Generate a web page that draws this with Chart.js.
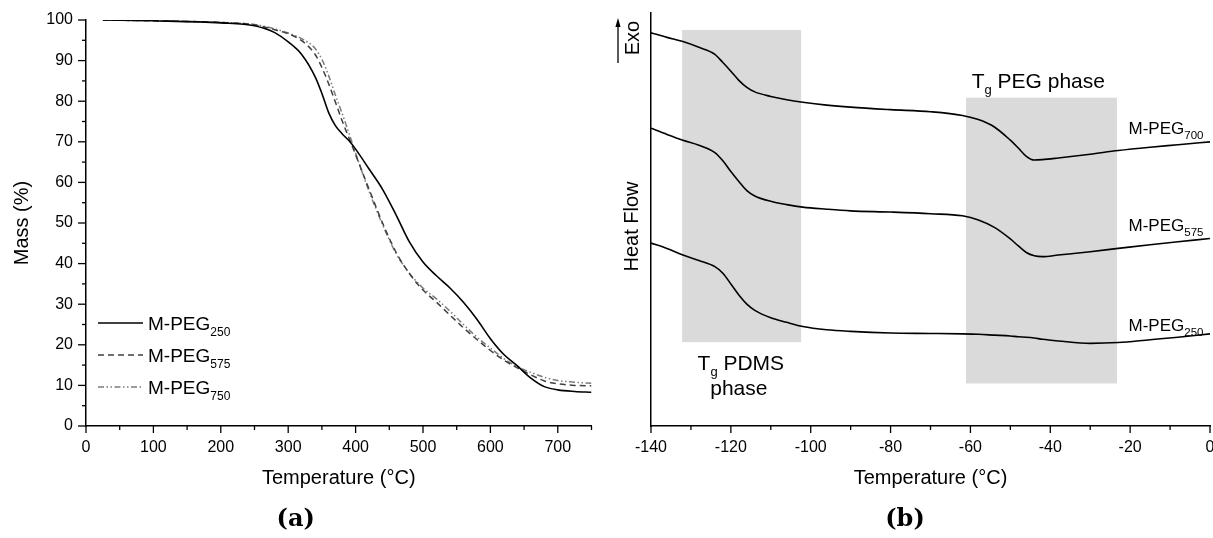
<!DOCTYPE html>
<html>
<head>
<meta charset="utf-8">
<script src="https://cdn.jsdelivr.net/npm/chart.js@4/dist/chart.umd.min.js"></script>
<style>
  html, body { margin: 0; padding: 0; background: #fff; overflow: hidden; width: 1213px; height: 538px; }
  #tga { position: absolute; left: 0; top: 0; }
  #dsc { position: absolute; left: 600px; top: 0; }
</style>
</head>
<body>
<canvas id="tga" width="600" height="538"></canvas>
<canvas id="dsc" width="616" height="538"></canvas>
<script>
// ---- (a) TGA: residual mass versus temperature ----
const tgaTemperature = [25, 100, 200, 250, 280, 300, 320, 340, 350, 360, 370, 380, 390, 400, 420, 440, 460, 480, 500, 520, 540, 560, 580, 600, 620, 640, 660, 680, 700, 725, 750];
const massPeg250 = [100, 99.8, 99.3, 98.6, 96.9, 94.6, 91.5, 86.0, 81.9, 77.2, 74.0, 72.0, 70.3, 68.2, 63.3, 58.3, 52.0, 45.3, 40.4, 37.0, 34.0, 30.5, 26.3, 21.5, 17.6, 14.8, 11.8, 9.7, 8.9, 8.5, 8.3];
const massPeg575 = [100, 99.8, 99.4, 98.8, 97.6, 96.6, 94.9, 91.5, 88.3, 84.3, 79.8, 75.2, 71.0, 66.8, 58.3, 50.0, 42.8, 37.5, 33.5, 30.5, 27.3, 24.2, 21.3, 18.6, 16.2, 14.3, 12.6, 11.1, 10.4, 10.0, 9.9];
const massPeg750 = [100, 99.8, 99.4, 98.9, 97.8, 96.8, 95.4, 93.0, 90.3, 86.3, 81.5, 77.0, 72.2, 67.2, 57.8, 49.6, 42.5, 37.6, 34.0, 31.3, 28.3, 25.0, 21.9, 19.2, 16.6, 14.6, 13.2, 12.0, 11.2, 10.8, 10.5];
const tgaSeriesSub = ['250', '575', '750'];

// ---- (b) DSC: heat flow (arbitrary units, curves offset) versus temperature ----
const dscTemperature = [-140, -136, -132, -128, -124, -122, -120, -118, -116, -114, -110, -106, -102, -96, -90, -80, -70, -62, -58, -54, -50, -48, -46, -44, -42, -38, -30, -23, -15, -8, 0];
const heatFlowPeg700 = [95.2, 94.1, 93.1, 91.7, 90.0, 88.0, 85.9, 83.7, 82.0, 80.9, 79.8, 79.0, 78.4, 77.7, 77.2, 76.6, 76.1, 75.2, 74.2, 72.4, 69.2, 67.3, 65.3, 64.4, 64.5, 64.9, 65.8, 66.7, 67.5, 68.1, 68.8];
const heatFlowPeg575 = [72.1, 70.6, 69.2, 68.0, 66.2, 64.2, 61.6, 59.2, 57.0, 55.7, 54.4, 53.6, 53.0, 52.5, 52.1, 51.8, 51.4, 50.9, 49.9, 48.1, 45.3, 43.6, 42.0, 41.2, 41.0, 41.4, 42.2, 43.0, 43.9, 44.6, 45.4];
const heatFlowPeg250 = [44.3, 43.0, 41.4, 40.1, 38.6, 37.0, 34.4, 31.7, 29.5, 28.0, 26.2, 25.1, 24.1, 23.3, 22.9, 22.5, 22.4, 22.3, 22.2, 22.0, 21.8, 21.6, 21.5, 21.3, 21.0, 20.6, 20.0, 20.2, 20.9, 21.5, 22.3];
const dscSeriesSub = ['700', '575', '250'];

// glass-transition windows (temperature span and heat-flow span)
const glassRegionStart = [-132.2, -61.1];
const glassRegionEnd = [-102.4, -23.3];
const glassRegionTop = [95.9, 79.5];
const glassRegionBottom = [20.3, 10.3];

const SANS = '"Liberation Sans", Arial, Helvetica, sans-serif';
Chart.defaults.font.family = SANS;
Chart.defaults.color = '#000';

const toPoints = (xs, ys) => xs.map((v, i) => ({ x: v, y: ys[i] }));

// text with subscript segments
function drawRich(ctx, segs, x, y, size, subSize, drop, align) {
  const widths = segs.map(s => { ctx.font = (s.sub ? subSize : size) + 'px ' + SANS; return ctx.measureText(s.text).width; });
  const total = widths.reduce((a, b) => a + b, 0);
  let cx = align === 'center' ? x - total / 2 : (align === 'right' ? x - total : x);
  ctx.textAlign = 'left';
  ctx.textBaseline = 'alphabetic';
  segs.forEach((s, i) => {
    ctx.font = (s.sub ? subSize : size) + 'px ' + SANS;
    ctx.fillText(s.text, cx, s.sub ? y + drop : y);
    cx += widths[i];
  });
}

// outward major/minor tick marks
const tickMarks = {
  id: 'tickMarks',
  afterDraw(chart, args, opts) {
    const ctx = chart.ctx;
    ctx.save();
    ctx.strokeStyle = '#000';
    ctx.lineWidth = 1.3;
    ['x', 'y'].forEach(id => {
      const o = opts[id];
      const s = chart.scales[id];
      if (!o || !s) return;
      s.ticks.forEach(t => {
        const major = Math.abs(t.value % o.major) < 1e-6;
        const len = major ? o.long : o.short;
        const p = s.getPixelForValue(t.value);
        ctx.beginPath();
        if (id === 'x') { ctx.moveTo(p, s.top); ctx.lineTo(p, s.top + len); }
        else { ctx.moveTo(s.right, p); ctx.lineTo(s.right - len, p); }
        ctx.stroke();
      });
    });
    ctx.restore();
  }
};

const tgaLegend = {
  id: 'tgaLegend',
  afterDatasetsDraw(chart) {
    const { ctx, chartArea } = chart;
    chart.data.datasets.forEach((ds, i) => {
      const y = chartArea.top + 303 + i * 32;
      ctx.save();
      ctx.strokeStyle = ds.borderColor;
      ctx.lineWidth = ds.borderWidth;
      ctx.setLineDash(ds.borderDash || []);
      ctx.beginPath();
      ctx.moveTo(chartArea.left + 12, y);
      ctx.lineTo(chartArea.left + 57, y);
      ctx.stroke();
      ctx.setLineDash([]);
      ctx.fillStyle = '#000';
      drawRich(ctx, [{ text: 'M-PEG' }, { text: tgaSeriesSub[i], sub: true }], chartArea.left + 62, y + 7, 19, 12, 6, 'left');
      ctx.restore();
    });
  }
};

const dscDecor = {
  id: 'dscDecor',
  beforeDatasetsDraw(chart) {
    const { ctx, scales: { x, y } } = chart;
    ctx.save();
    ctx.fillStyle = '#dadada';
    glassRegionStart.forEach((s, i) => {
      const x0 = x.getPixelForValue(s), x1 = x.getPixelForValue(glassRegionEnd[i]);
      const y0 = y.getPixelForValue(glassRegionTop[i]), y1 = y.getPixelForValue(glassRegionBottom[i]);
      ctx.fillRect(x0, y0, x1 - x0, y1 - y0);
    });
    ctx.restore();
  },
  afterDraw(chart) {
    const { ctx, chartArea, scales: { x, y } } = chart;
    ctx.save();
    ctx.fillStyle = '#000';
    // curve names
    const labelY = [70.6, 47.2, 23.0];
    dscSeriesSub.forEach((sub, i) => {
      drawRich(ctx, [{ text: 'M-PEG' }, { text: sub, sub: true }], x.getPixelForValue(-20.4), y.getPixelForValue(labelY[i]), 17, 11.5, 5, 'left');
    });
    // region captions
    drawRich(ctx, [{ text: 'T' }, { text: 'g', sub: true }, { text: ' PEG phase' }], x.getPixelForValue(-59.7), y.getPixelForValue(81.8), 21, 13, 6, 'left');
    drawRich(ctx, [{ text: 'T' }, { text: 'g', sub: true }, { text: ' PDMS' }], x.getPixelForValue(-117.5), y.getPixelForValue(13.6), 21, 13, 6, 'center');
    drawRich(ctx, [{ text: 'phase' }], x.getPixelForValue(-118.0), y.getPixelForValue(7.5), 21, 13, 6, 'center');
    // y axis caption and exotherm direction
    ctx.font = '20px ' + SANS;
    ctx.textAlign = 'center';
    ctx.textBaseline = 'middle';
    ctx.save();
    ctx.translate(chartArea.left - 19, (chartArea.top + chartArea.bottom) / 2 + 7);
    ctx.rotate(-Math.PI / 2);
    ctx.fillText('Heat Flow', 0, 0);
    ctx.restore();
    ctx.save();
    ctx.translate(chartArea.left - 18, chartArea.top + 25);
    ctx.rotate(-Math.PI / 2);
    ctx.fillText('Exo', 0, 0);
    ctx.restore();
    const ax = chartArea.left - 33;
    ctx.strokeStyle = '#000';
    ctx.lineWidth = 1.3;
    ctx.beginPath();
    ctx.moveTo(ax, chartArea.top + 50);
    ctx.lineTo(ax, chartArea.top + 12);
    ctx.stroke();
    ctx.beginPath();
    ctx.moveTo(ax, chartArea.top + 5);
    ctx.lineTo(ax - 2.6, chartArea.top + 14);
    ctx.lineTo(ax + 2.6, chartArea.top + 14);
    ctx.closePath();
    ctx.fill();
    ctx.restore();
  }
};

const panelTitle = text => ({
  display: true,
  position: 'bottom',
  text,
  color: '#000',
  font: { family: '"DejaVu Serif", "Liberation Serif", serif', size: 24, weight: 'bold' },
  padding: { top: 0, bottom: 3.6 }
});

// invisible tick spacer so labels sit clear of the axis without extra edge padding
const spacerGrid = len => ({ display: true, drawOnChartArea: false, drawTicks: true, tickLength: len, tickColor: 'rgba(0,0,0,0)' });

const lineStyle = { pointRadius: 0, fill: false, cubicInterpolationMode: 'monotone' };

new Chart(document.getElementById('tga'), {
  type: 'line',
  data: {
    datasets: [
      { ...lineStyle, label: 'M-PEG250', data: toPoints(tgaTemperature, massPeg250), borderColor: '#000', borderWidth: 1.6 },
      { ...lineStyle, label: 'M-PEG575', data: toPoints(tgaTemperature, massPeg575), borderColor: '#404040', borderWidth: 1.5, borderDash: [6, 4] },
      { ...lineStyle, label: 'M-PEG750', data: toPoints(tgaTemperature, massPeg750), borderColor: '#7c7c7c', borderWidth: 1.5, borderDash: [6, 2.5, 1.5, 2.5, 1.5, 2.5] }
    ]
  },
  options: {
    responsive: false,
    animation: false,
    events: [],
    devicePixelRatio: 1,
    layout: { padding: { top: 20, right: 8.5, left: 0, bottom: 0 } },
    plugins: {
      legend: { display: false },
      tooltip: { enabled: false },
      title: panelTitle('(a)'),
      tickMarks: { x: { major: 100, long: 7, short: 4 }, y: { major: 10, long: 8, short: 4 } }
    },
    scales: {
      x: {
        type: 'linear', min: 0, max: 750,
        grid: spacerGrid(12),
        border: { display: true, color: '#000', width: 1.5 },
        ticks: { stepSize: 50, padding: 0, maxRotation: 0, autoSkip: false, font: { size: 16 }, callback: v => (v % 100 === 0 ? String(v) : '') },
        title: { display: true, text: 'Temperature (°C)', font: { size: 20 }, padding: { top: 0, bottom: 15.6 } },
        afterFit: s => { s.height = 79.6; }
      },
      y: {
        type: 'linear', min: 0, max: 100,
        grid: spacerGrid(13),
        border: { display: true, color: '#000', width: 1.5 },
        ticks: { stepSize: 5, padding: 0, autoSkip: false, font: { size: 16 }, callback: v => (v % 10 === 0 ? String(v) : '') },
        title: { display: true, text: 'Mass (%)', font: { size: 20 }, padding: { top: 10, bottom: 0 } },
        afterFit: s => { s.width = 86; }
      }
    }
  },
  plugins: [tickMarks, tgaLegend]
});

new Chart(document.getElementById('dsc'), {
  type: 'line',
  data: {
    datasets: [
      { ...lineStyle, label: 'M-PEG700', data: toPoints(dscTemperature, heatFlowPeg700), borderColor: '#000', borderWidth: 1.6 },
      { ...lineStyle, label: 'M-PEG575', data: toPoints(dscTemperature, heatFlowPeg575), borderColor: '#000', borderWidth: 1.6 },
      { ...lineStyle, label: 'M-PEG250', data: toPoints(dscTemperature, heatFlowPeg250), borderColor: '#000', borderWidth: 1.6 }
    ]
  },
  options: {
    responsive: false,
    animation: false,
    events: [],
    devicePixelRatio: 1,
    layout: { padding: { top: 13, right: 6, left: 0, bottom: 0 } },
    plugins: {
      legend: { display: false },
      tooltip: { enabled: false },
      title: panelTitle('(b)'),
      tickMarks: { x: { major: 20, long: 7, short: 4 } }
    },
    scales: {
      x: {
        type: 'linear', min: -140, max: 0,
        grid: spacerGrid(12),
        border: { display: true, color: '#000', width: 1.5 },
        ticks: { stepSize: 10, padding: 0, maxRotation: 0, autoSkip: false, font: { size: 16 }, callback: v => (v % 20 === 0 ? String(v) : '') },
        title: { display: true, text: 'Temperature (°C)', font: { size: 20 }, padding: { top: 0, bottom: 15.6 } },
        afterFit: s => { s.height = 79.6; }
      },
      y: {
        type: 'linear', min: 0, max: 100,
        grid: { display: false },
        border: { display: true, color: '#000', width: 1.5 },
        ticks: { display: false, padding: 0 },
        afterFit: s => { s.width = 51; }
      }
    }
  },
  plugins: [tickMarks, dscDecor]
});
</script>
</body>
</html>
